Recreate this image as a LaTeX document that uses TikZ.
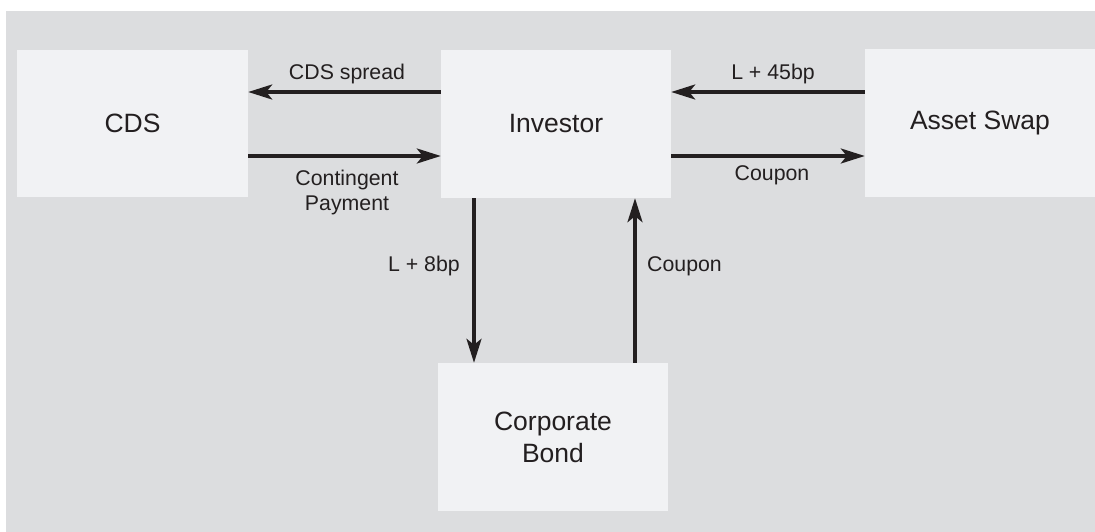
\documentclass[tikz,border=0pt]{standalone}
\usepackage{fontspec}
\setmainfont{Liberation Sans}
\usetikzlibrary{arrows.meta}
\definecolor{bggray}{HTML}{DCDDDF}
\definecolor{boxfill}{HTML}{F1F2F4}
\definecolor{ink}{HTML}{231F20}
\tikzset{
  box/.style={fill=boxfill, draw=none, minimum width=230pt, minimum height=148pt, inner sep=0pt,
    text=ink, align=center, font=\fontsize{26.5}{32}\selectfont},
  lbl/.style={text=ink, inner sep=0pt, align=center, font=\fontsize{21.3}{25}\selectfont},
  arr/.style={draw=ink, line width=3.2pt, -{Stealth[length=24pt,width=15pt,inset=6pt]}}
}
\begin{document}
\begin{tikzpicture}[x=1pt,y=-1pt]
\useasboundingbox (0,0) rectangle (1095,532);
\fill[bggray] (6,11) rectangle (1095,532);
\node[box, minimum width=231pt, minimum height=147pt] (cds) at (132.5,123.5) {CDS};
\node[box] (inv) at (556,124) {Investor};
\node[box] (asw) at (980,123) {Asset Swap};
\node[box] (bond) at (553,437) {Corporate\\Bond};
\coordinate (r1) at (0,92);
\coordinate (r2) at (0,156);
\coordinate (c1) at (474,0);
\coordinate (c2) at (635,0);
\draw[arr] (inv.west |- r1) -- (cds.east |- r1);
\draw[arr] (cds.east |- r2) -- (inv.west |- r2);
\draw[arr] (asw.west |- r1) -- (inv.east |- r1);
\draw[arr] (inv.east |- r2) -- (asw.west |- r2);
\draw[arr] (c1 |- inv.south) -- (c1 |- bond.north);
\draw[arr] (c2 |- bond.north) -- (c2 |- inv.south);
\node[lbl] (l1) at (347,74) {CDS spread};
\node[lbl] (l2) at (347,192) {Contingent\\Payment};
\node[lbl] (l3) at (773,74) {L + 45bp};
\node[lbl] (l4) at (772,175) {Coupon};
\node[lbl, anchor=east] (l5) at (460,266) {L + 8bp};
\node[lbl, anchor=west] (l6) at (647,266) {Coupon};
\end{tikzpicture}
\end{document}
